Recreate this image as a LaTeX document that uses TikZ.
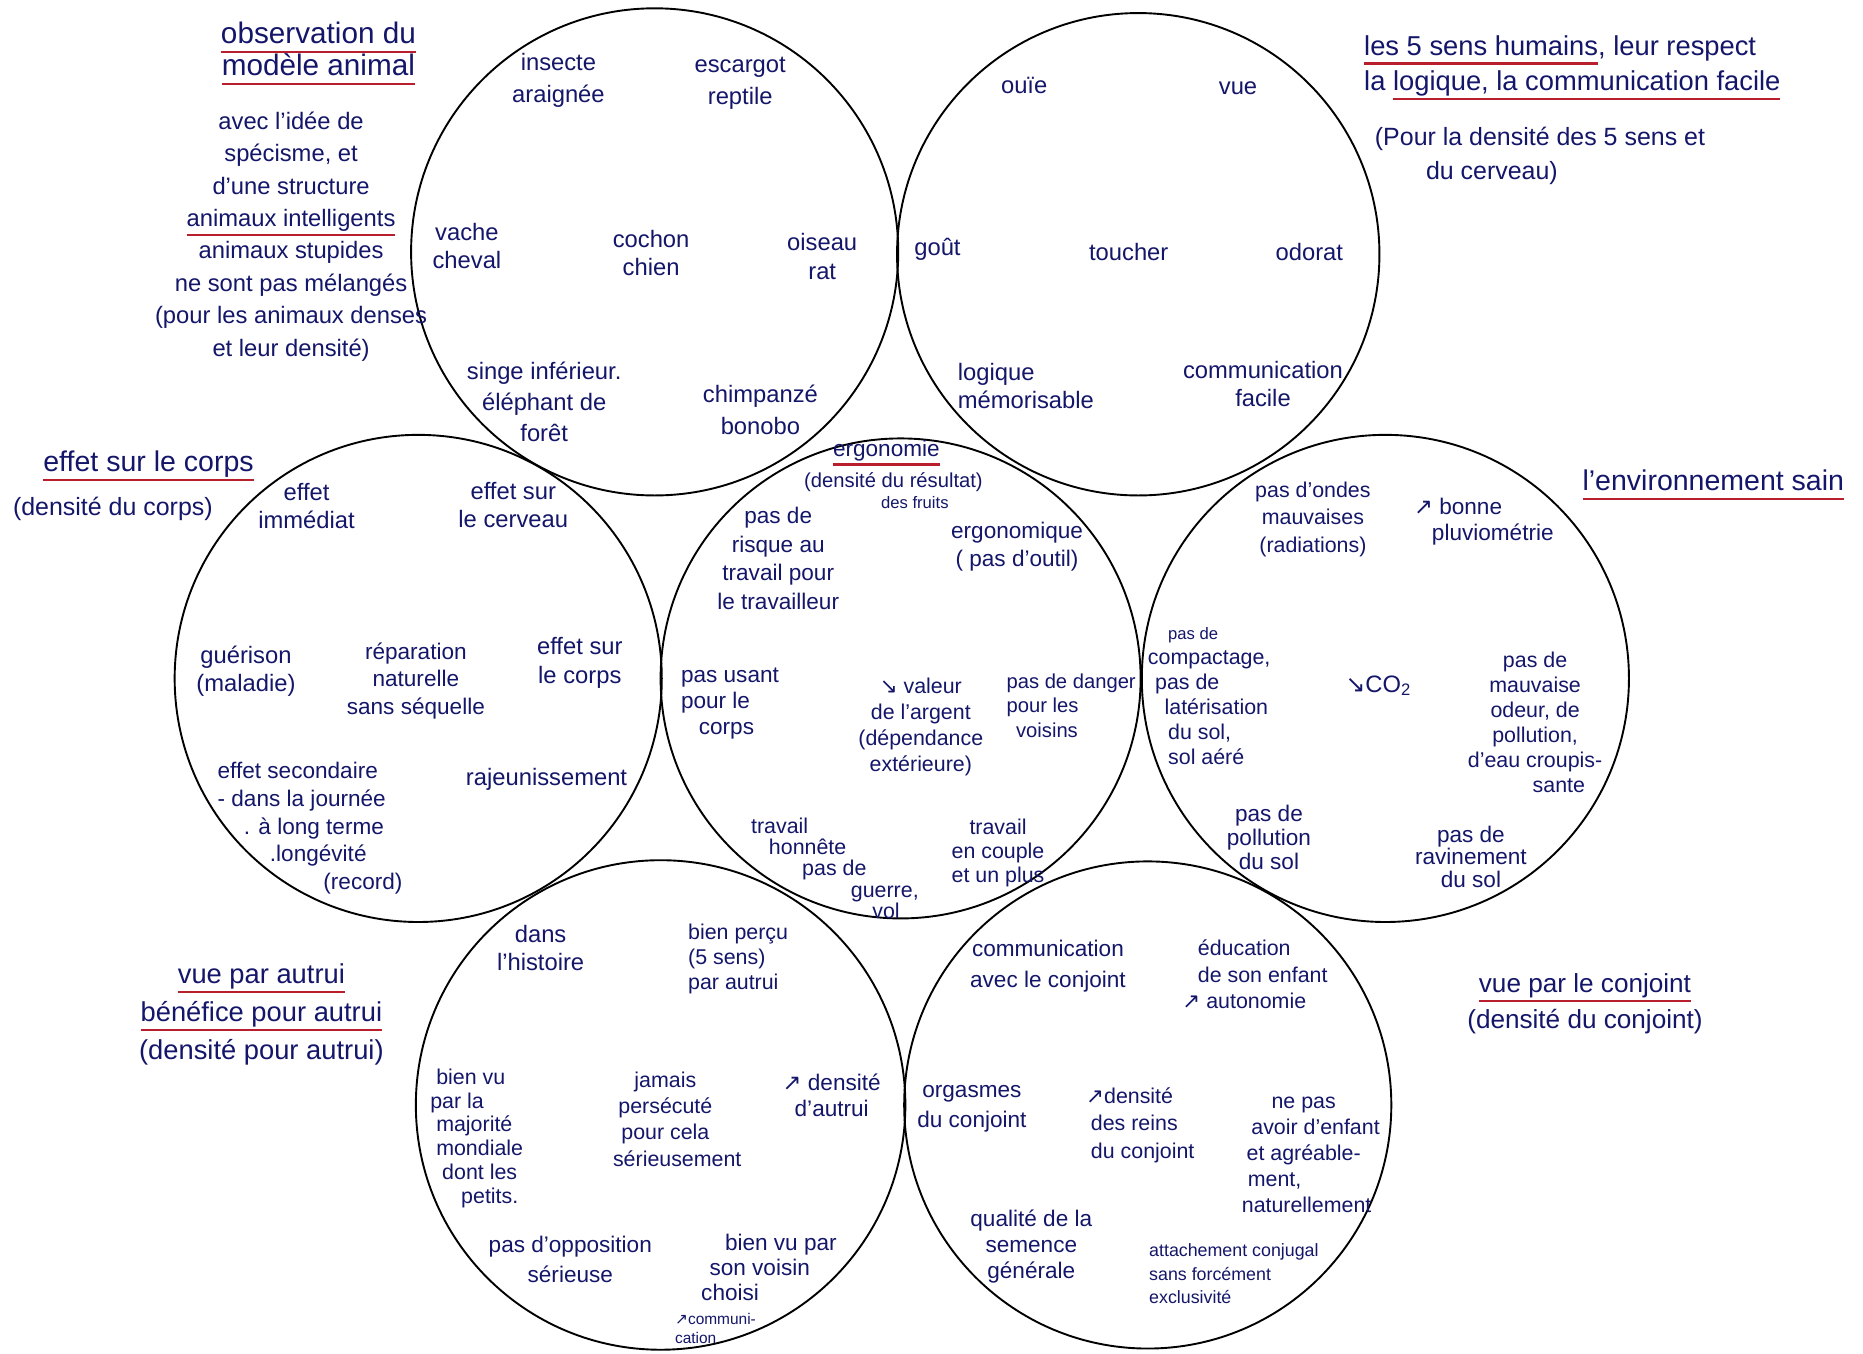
\documentclass[tikz,border=0pt]{standalone}
\usepackage{fontspec}
\setmainfont{Liberation Sans}
\newfontfamily\arrowfont{DejaVu Sans}
\definecolor{ink}{RGB}{20,22,105}
\definecolor{ulred}{RGB}{185,30,45}
\newsavebox\ulbox
\newcommand\redul[1]{\sbox\ulbox{#1}\rlap{\textcolor{ulred}{\rule[-8pt]{\wd\ulbox}{1.8pt}}}\usebox\ulbox}
\newcommand\myNE{{\arrowfont ↗}}
\newcommand\mySE{{\arrowfont ↘}}
\newcommand\szz[2]{\fontsize{#1}{#2}\selectfont}
\tikzset{
  ring/.style={circle, draw=black, line width=1.6pt, minimum size=#1, inner sep=0pt},
  lbl/.style={text=ink, align=center, inner sep=0pt, font=\szz{20}{24}},
  lbll/.style={lbl, align=left},
  ann/.style={text=ink, align=center, inner sep=0pt, font=\szz{22}{29}},
}
\begin{document}
\begin{tikzpicture}[x=1pt,y=-1pt]
\fill[white] (0,0) rectangle (1568,1139);
\useasboundingbox (0,0) rectangle (1568,1139);

% circles
\node[ring=410pt] (c1) at (551,212) {};
\node[ring=406pt] (c2) at (958,214) {};
\node[ring=410pt] (c3) at (352,571) {};
\node[ring=404pt] (c4) at (758,571) {};
\node[ring=410pt] (c5) at (1166,571) {};
\node[ring=412pt] (c6) at (556,930) {};
\node[ring=410pt] (c7) at (966,930) {};

% annotations
\node[ann, font=\szz{25}{26}] (a1) at (268,45) {\redul{observation du}\\\redul{modèle animal}};
\node[ann, font=\szz{20}{27.3}] (a2) at (245,199) {avec l'idée de\\spécisme, et\\d'une structure\\\redul{animaux intelligents}\\animaux stupides\\ne sont pas mélangés\\(pour les animaux denses\\et leur densité)};
\node[ann, align=left, anchor=west, font=\szz{23}{30}] (a3) at (1148,57) {\redul{les 5 sens humains}, leur respect\\la \redul{logique, la communication facile}};
\node[ann, align=left, anchor=west, font=\szz{21}{29}] (a4) at (1157,131) {(Pour la densité des 5 sens et\\\hspace*{43pt}du cerveau)};
\node[ann, font=\szz{24}{28}] (a5) at (125,392) {\redul{effet sur le corps}};
\node[ann, font=\szz{21}{26}] (a6) at (95,428) {(densité du corps)};
\node[ann, font=\szz{24}{28}] (a7) at (1442,408) {\redul{l'environnement sain}};
\node[ann, font=\szz{23}{32}] (a8) at (220,854) {\redul{vue par autrui}\\\redul{bénéfice pour autrui}\\(densité pour autrui)};
\node[ann, font=\szz{22}{30}] (a9) at (1334,845) {\redul{vue par le conjoint}\\(densité du conjoint)};

% circle 1 : animals
\node[lbl, font=\szz{20}{27}] (n11) at (470,68) {insecte\\araignée};
\node[lbl, font=\szz{20}{27}] (n12) at (623,70) {escargot\\reptile};
\node[lbl] (n13) at (393,207) {vache\\cheval};
\node[lbl] (n14) at (548,213) {cochon\\chien};
\node[lbl] (n15) at (692,216) {oiseau\\rat};
\node[lbl, font=\szz{20}{26}] (n16) at (458,338) {singe inférieur.\\éléphant de\\forêt};
\node[lbl, font=\szz{20}{27}] (n17) at (640,345) {chimpanzé\\bonobo};

% circle 2 : senses
\node[lbl] (n21) at (862,72) {ouïe};
\node[lbl] (n22) at (1042,74) {vue};
\node[lbl] (n23) at (789,210) {goût};
\node[lbl] (n24) at (950,212) {toucher};
\node[lbl] (n25) at (1102,212) {odorat};
\node[lbll, anchor=west] (n26) at (806,325) {logique\\mémorisable};
\node[lbl] (n27) at (1063,323) {communication\\facile};

% circle 3 : body
\node[lbl] (n31) at (258,426) {effet\\immédiat};
\node[lbl] (n32) at (432,425) {effet sur\\le cerveau};
\node[lbl] (n33) at (207,565) {guérison\\(maladie)};
\node[lbl, font=\szz{19}{23}] (n34) at (350,573) {réparation\\naturelle\\sans séquelle};
\node[lbl] (n35) at (488,558) {effet sur\\le corps};
\node[lbll, anchor=north west, font=\szz{19}{23.5}] (n36) at (183,641) {effet secondaire\\- dans la journée\\\hspace*{22pt}. à long terme\\\hspace*{44pt}.longévité\\\hspace*{89pt}(record)};
\node[lbl] (n37) at (460,656) {rajeunissement};

% circle 4 : ergonomy
\node[lbl, font=\szz{19}{22}] (n41) at (746,381) {\redul{ergonomie}};
\node[lbl, font=\szz{17}{20}] (n42) at (752,406) {(densité du résultat)};
\node[lbl, font=\szz{14}{16}] (n42b) at (770,423) {des fruits};
\node[lbl, font=\szz{19}{24}] (n43) at (655,470) {pas de\\risque au\\travail pour\\le travailleur};
\node[lbl, font=\szz{19}{24}] (n44) at (856,460) {ergonomique\\( pas d'outil)};
\node[lbll, anchor=west, font=\szz{19}{22}] (n45) at (573,592) {pas usant\\pour le\\\hspace*{15pt}corps};
\node[lbl, font=\szz{18}{22}] (n46) at (775,612) {\mySE\ valeur\\de l'argent\\(dépendance\\extérieure)};
\node[lbll, anchor=west, font=\szz{17}{21}] (n47) at (847,594) {pas de danger\\pour les\\\hspace*{8pt}voisins};
\node[lbll, anchor=north west, font=\szz{18}{18}] (n48) at (632,688) {travail\\\hspace*{15pt}honnête\\\hspace*{43pt}pas de\\\hspace*{84pt}guerre,\\\hspace*{102pt}vol};
\node[lbl, font=\szz{18}{20}] (n49) at (840,718) {travail\\en couple\\et un plus};

% circle 5 : environment
\node[lbl, font=\szz{18}{23}] (n51) at (1105,437) {pas d'ondes\\mauvaises\\(radiations)};
\node[lbll, anchor=west, font=\szz{19}{22}] (n52) at (1190,439) {\myNE\ bonne\\\hspace*{15pt}pluviométrie};
\node[lbll, anchor=north west, font=\szz{18}{21}] (n53) at (966,528) {\hspace*{17pt}{\szz{14}{16}pas de}\\compactage,\\\hspace*{6pt}pas de\\\hspace*{14pt}latérisation\\\hspace*{17pt}du sol,\\\hspace*{17pt}sol aéré};
\node[lbl] (n54) at (1160,577) {\mySE CO\textsubscript{2}};
\node[lbl, font=\szz{18}{21}] (n55) at (1292,608) {pas de\\mauvaise\\odeur, de\\pollution,\\d'eau croupis-\\\hspace*{40pt}sante};
\node[lbl, font=\szz{19}{20}] (n56) at (1068,705) {pas de\\pollution\\du sol};
\node[lbl, font=\szz{19}{19}] (n57) at (1238,721) {pas de\\ravinement\\du sol};

% circle 6 : others
\node[lbl] (n61) at (455,798) {dans\\l'histoire};
\node[lbll, anchor=west, font=\szz{18}{21}] (n62) at (579,807) {bien perçu\\(5 sens)\\par autrui};
\node[lbll, anchor=west, font=\szz{18}{20}] (n63) at (362,958) {\hspace*{5pt}bien vu\\par la\\\hspace*{5pt}majorité\\\hspace*{5pt}mondiale\\\hspace*{10pt}dont les\\\hspace*{26pt}petits.};
\node[lbl, font=\szz{18}{22}] (n64) at (560,942) {jamais\\persécuté\\pour cela\\\hspace*{20pt}sérieusement};
\node[lbl, font=\szz{19}{22}] (n65) at (700,922) {\myNE\ densité\\d'autrui};
\node[lbl, font=\szz{19}{25}] (n66) at (480,1060) {pas d'opposition\\sérieuse};
\node[lbll, anchor=west, font=\szz{19}{21}] (n67) at (590,1067) {\hspace*{20pt}bien vu par\\\hspace*{7pt}son voisin\\choisi};
\node[lbll, anchor=west, font=\szz{13}{16}] (n68) at (568,1118) {\myNE communi-\\cation};

% circle 7 : spouse
\node[lbl, font=\szz{19}{26}] (n71) at (882,813) {communication\\avec le conjoint};
\node[lbll, anchor=west, font=\szz{18}{22}] (n72) at (995,820) {\hspace*{13pt}éducation\\\hspace*{13pt}de son enfant\\\myNE\ autonomie};
\node[lbl, font=\szz{19}{25}] (n73) at (818,933) {orgasmes\\du conjoint};
\node[lbll, anchor=west, font=\szz{18}{23}] (n74) at (914,947) {\myNE densité\\\hspace*{4pt}des reins\\\hspace*{4pt}du conjoint};
\node[lbll, anchor=west, font=\szz{18}{22}] (n75) at (1045,972) {\hspace*{25pt}ne pas\\\hspace*{8pt}avoir d'enfant\\\hspace*{4pt}et agréable-\\\hspace*{5pt}ment,\\naturellement};
\node[lbl, font=\szz{19}{22}] (n76) at (868,1049) {qualité de la\\semence\\générale};
\node[lbll, anchor=west, font=\szz{15}{20}] (n77) at (967,1072) {attachement conjugal\\sans forcément\\exclusivité};
\end{tikzpicture}
\end{document}
